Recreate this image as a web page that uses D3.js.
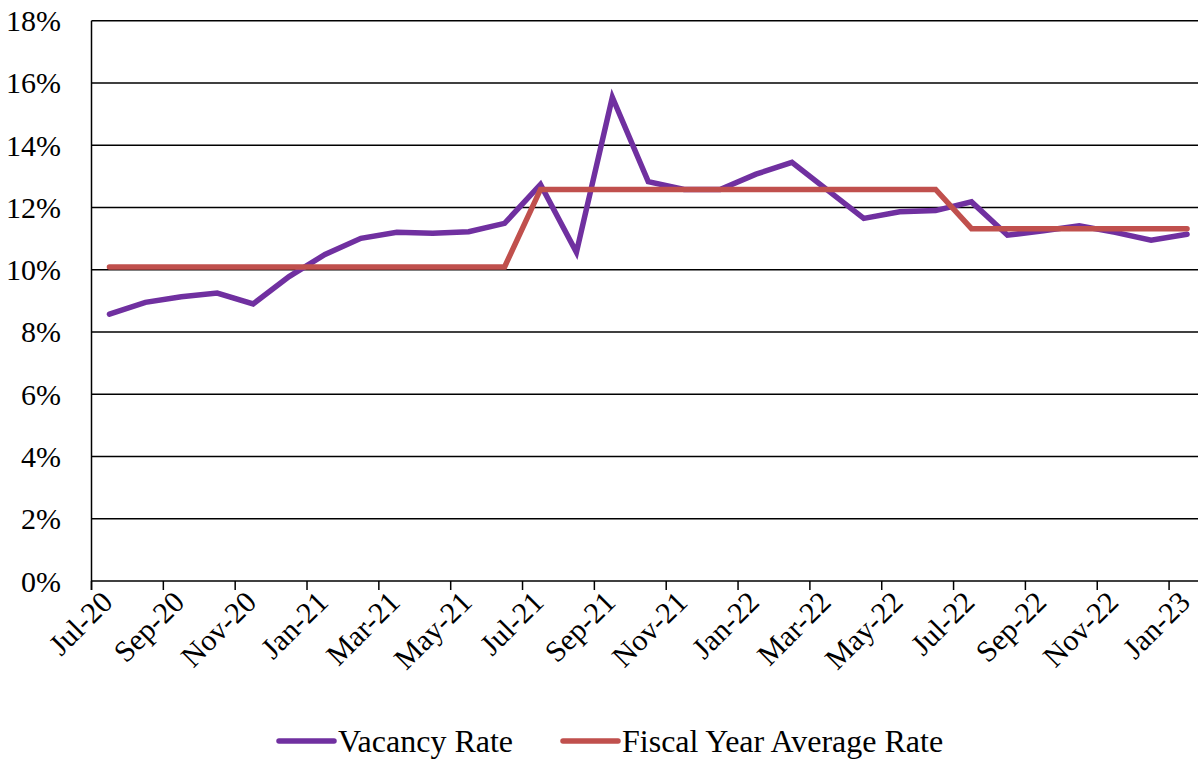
<!DOCTYPE html>
<html>
<head>
<meta charset="utf-8">
<script src="https://cdn.jsdelivr.net/npm/d3@7"></script>
<style>
  body { margin: 0; background: #fff; }
  svg, svg text { font-family: "Liberation Serif", "Times New Roman", Times, "DejaVu Serif", serif; }
  svg { display: block; }
</style>
</head>
<body>
<svg id="chart"></svg>
<script>
// months on the x axis
var months = ["Jul-20","Aug-20","Sep-20","Oct-20","Nov-20","Dec-20",
              "Jan-21","Feb-21","Mar-21","Apr-21","May-21","Jun-21",
              "Jul-21","Aug-21","Sep-21","Oct-21","Nov-21","Dec-21",
              "Jan-22","Feb-22","Mar-22","Apr-22","May-22","Jun-22",
              "Jul-22","Aug-22","Sep-22","Oct-22","Nov-22","Dec-22","Jan-23"];

var vacancyRate = [8.57, 8.95, 9.13, 9.25, 8.90, 9.78,
                   10.49, 11.01, 11.20, 11.17, 11.22, 11.49,
                   12.74, 10.56, 15.54, 12.83, 12.58, 12.58,
                   13.07, 13.45, 12.55, 11.65, 11.86, 11.90,
                   12.18, 11.11, 11.25, 11.41, 11.20, 10.95, 11.14];

var fiscalAvg = [10.09, 10.09, 10.09, 10.09, 10.09, 10.09,
                 10.09, 10.09, 10.09, 10.09, 10.09, 10.09,
                 12.58, 12.58, 12.58, 12.58, 12.58, 12.58,
                 12.58, 12.58, 12.58, 12.58, 12.58, 12.58,
                 11.32, 11.32, 11.32, 11.32, 11.32, 11.32, 11.32];

var yTicks = [0, 2, 4, 6, 8, 10, 12, 14, 16, 18];

var seriesNames = ["Vacancy Rate", "Fiscal Year Average Rate"];
var colors = ["#7030A0", "#C0504D"];

var W = 1198, H = 759;
var margins = { left: 91.5, right: -7, top: 20.7, bottom: 178 };

var svg = d3.select("#chart")
            .attr("width", W)
            .attr("height", H);

svg.append("rect").attr("width", W).attr("height", H).attr("fill", "#fff");

var width = W - margins.left - margins.right;
var height = H - margins.top - margins.bottom;

var xScale = d3.scaleBand()
               .domain(months)
               .range([margins.left, margins.left + width])
               .padding(0);

var yScale = d3.scaleLinear()
               .domain([0, 18])
               .range([margins.top + height, margins.top]);

// gridlines
svg.append("g")
   .selectAll("line")
   .data(yTicks)
   .enter()
   .append("line")
   .attr("x1", margins.left)
   .attr("x2", margins.left + width)
   .attr("y1", function(d) { return yScale(d); })
   .attr("y2", function(d) { return yScale(d); })
   .attr("stroke", "#000")
   .attr("stroke-width", 1.5);

// y axis line + labels
svg.append("line")
   .attr("x1", margins.left).attr("x2", margins.left)
   .attr("y1", yScale(18)).attr("y2", yScale(0) + 9)
   .attr("stroke", "#000").attr("stroke-width", 1.5);

svg.append("g")
   .selectAll("text")
   .data(yTicks)
   .enter()
   .append("text")
   .attr("x", 61)
   .attr("y", function(d) { return yScale(d); })
   .attr("dy", "0.35em")
   .attr("text-anchor", "end")
   .attr("font-size", 30)
   .text(function(d) { return d + "%"; });

// x ticks every two months, on the band edges
var tickMonths = months.filter(function(d, i) { return i % 2 == 0; });

svg.append("g")
   .selectAll("line")
   .data(tickMonths)
   .enter()
   .append("line")
   .attr("x1", function(d) { return xScale(d); })
   .attr("x2", function(d) { return xScale(d); })
   .attr("y1", yScale(0))
   .attr("y2", yScale(0) + 9)
   .attr("stroke", "#000")
   .attr("stroke-width", 1.5);

svg.append("g")
   .selectAll("text")
   .data(tickMonths)
   .enter()
   .append("text")
   .attr("transform", function(d) {
     var cx = xScale(d) + xScale.bandwidth() / 2 - 10;
     return "translate(" + cx + "," + (yScale(0) + 8) + ") rotate(-45)";
   })
   .attr("text-anchor", "end")
   .attr("dy", "0.7em")
   .attr("font-size", 30)
   .text(function(d) { return d; });

// lines
var line = d3.line()
             .x(function(d, i) { return xScale(months[i]) + xScale.bandwidth() / 2; })
             .y(function(d) { return yScale(d); });

[vacancyRate, fiscalAvg].forEach(function(s, k) {
  svg.append("path")
     .datum(s)
     .attr("d", line)
     .attr("fill", "none")
     .attr("stroke", colors[k])
     .attr("stroke-width", 5.5)
     .attr("stroke-linejoin", "miter")
     .attr("stroke-linecap", "round");
});

// legend
var legendX = [279, 563];
var legend = svg.append("g")
                .selectAll("g")
                .data(seriesNames)
                .enter()
                .append("g")
                .attr("transform", function(d, i) { return "translate(" + legendX[i] + ",741)"; });

legend.append("line")
      .attr("x1", 0).attr("x2", 55)
      .attr("stroke", function(d, i) { return colors[i]; })
      .attr("stroke-width", 5.5)
      .attr("stroke-linecap", "round");

legend.append("text")
      .attr("x", 59)
      .attr("dy", "0.35em")
      .attr("font-size", 32)
      .text(function(d) { return d; });
</script>
</body>
</html>
